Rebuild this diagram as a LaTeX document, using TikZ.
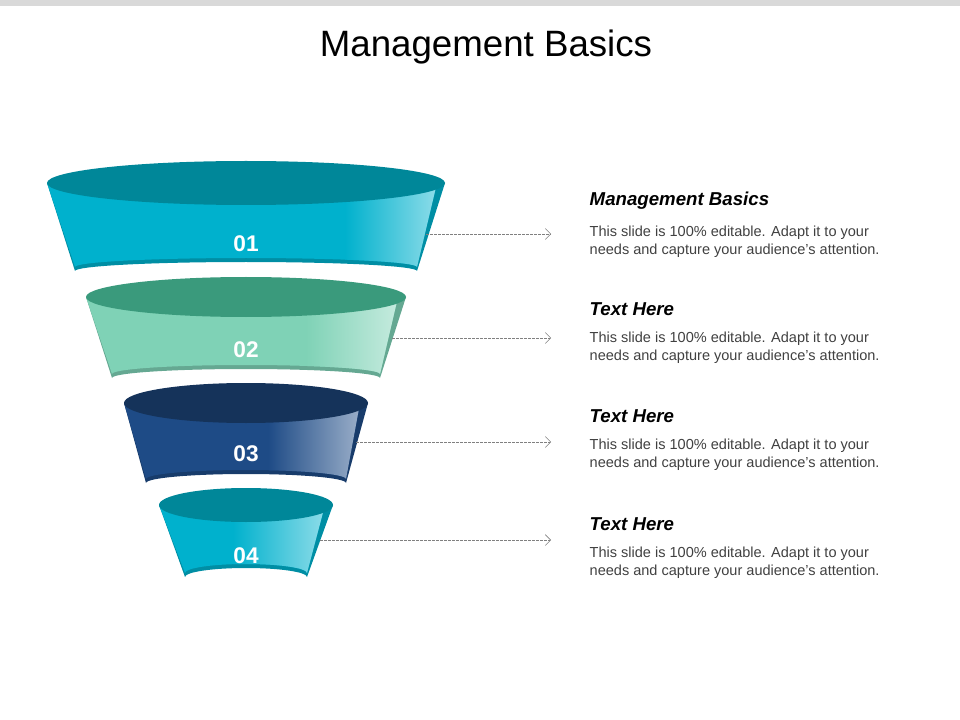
\documentclass[tikz,border=0pt]{standalone}
\usepackage{fontspec}
\setmainfont{Liberation Sans}
\usetikzlibrary{arrows.meta}
\definecolor{tealtop}{HTML}{008799}
\definecolor{tealbody}{HTML}{00B1CD}
\definecolor{minttop}{HTML}{3A9A7C}
\definecolor{mintbody}{HTML}{7FD2B6}
\definecolor{navytop}{HTML}{15335A}
\definecolor{navybody}{HTML}{1E4B86}
\tikzset{
  numtxt/.style={text=white, font=\bfseries\fontsize{17}{20}\selectfont},
  headtxt/.style={anchor=west, font=\itshape\bfseries\fontsize{14}{16}\selectfont},
  bodytxt/.style={anchor=north west, align=left, text=black!75, font=\fontsize{10.9}{13.5}\selectfont},
  leader/.style={dashed, black!50, thin, dash pattern=on 2pt off 1pt, -{Straight Barb[length=4pt,width=8pt]}}
}
% one funnel ring: #1 cy, #2 rx, #3 ry, #4 bottom y, #5 half bottom width, #6 top, #7 body
\newcommand{\ring}[7]{
  \fill[#7!80!black] (246-#2,#1) -- (246-#5,#4) arc[start angle=180,end angle=360,x radius=#5,y radius=9] -- (246+#2,#1) -- cycle;
  \begin{scope}
    \clip (246-#2,#1) -- (246-#5,#4-4) arc[start angle=180,end angle=360,x radius=#5,y radius=9] -- (246+#2-8,#1) -- cycle;
    \fill[#7] (246-#2-5,#1) rectangle (246+#2,#4+12);
    \shade[left color=#7, right color=white!60!#7] (246+#2-100,#1) rectangle (246+#2,#4+12);
  \end{scope}
  \fill[#6] (246,#1) ellipse[x radius=#2, y radius=#3];
}
\begin{document}
\begin{tikzpicture}[x=0.75pt,y=-0.75pt]
\useasboundingbox (0,0) rectangle (960,720);
\fill[black!15] (0,0) rectangle (960,6);
\node[font=\fontsize{27.5}{32}\selectfont] (title) at (486,47) {Management Basics};
\ring{183}{199}{22}{271}{171}{tealtop}{tealbody}
\ring{297}{160}{20}{378}{134}{minttop}{mintbody}
\ring{403}{122}{20}{483}{100}{navytop}{navybody}
\ring{505}{87}{17}{577}{61}{tealtop}{tealbody}
\node[numtxt] (n1) at (246,244) {01};
\node[numtxt] (n2) at (246,350) {02};
\node[numtxt] (n3) at (246,454) {03};
\node[numtxt] (n4) at (246,556) {04};
\coordinate (s1) at (426,234);
\coordinate (s2) at (392,338);
\coordinate (s3) at (356,442);
\coordinate (s4) at (320,540);
\coordinate (e1) at (551,234);
\coordinate (e2) at (551,338);
\coordinate (e3) at (551,442);
\coordinate (e4) at (551,540);
\foreach \i in {1,...,4} \draw[leader] (s\i) -- (e\i);
\node[headtxt] (h1) at (585,201) {Management Basics};
\node[headtxt] (h2) at (585,309) {Text Here};
\node[headtxt] (h3) at (585,416) {Text Here};
\node[headtxt] (h4) at (585,524) {Text Here};
\foreach \i in {1,...,4}
  \node[bodytxt] (b\i) at ([yshift=-5pt]h\i.south west) {This slide is 100\% editable. Adapt it to your\\needs and capture your audience's attention.};
\end{tikzpicture}
\end{document}
